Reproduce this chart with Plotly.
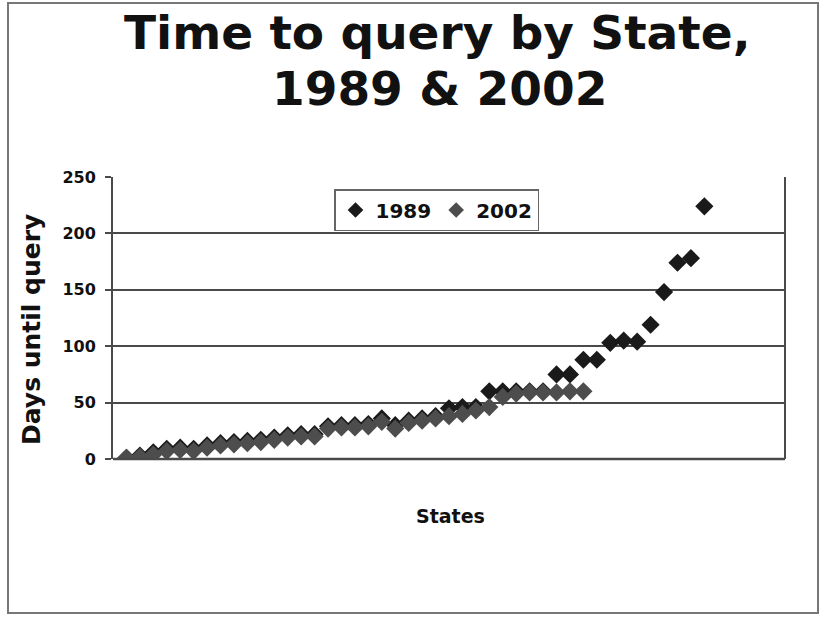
import plotly.graph_objects as go

# State rank (sorted order) for each series
rank_1989 = list(range(1, 45))
rank_2002 = list(range(1, 36))

days_1989 = [1, 3, 6, 9, 10, 9, 12, 14, 15, 16, 17, 19, 21, 22, 22, 29, 30, 30, 31, 36,
             30, 34, 36, 38, 45, 46, 46, 60, 60, 60, 60, 60, 75, 75, 88, 88, 103, 105, 104, 119,
             148, 174, 178, 224]
days_2002 = [1, 2, 4, 7, 8, 7, 10, 12, 13, 14, 15, 17, 19, 20, 20, 27, 28, 28, 29, 33,
             27, 32, 34, 36, 38, 40, 43, 46, 55, 58, 59, 59, 59, 60, 60]

y_ticks = [0, 50, 100, 150, 200, 250]

W, H = 820, 617
L, R, T, B = 113, 35, 177, 158
pw, ph = W - L - R, H - T - B
FONT = "DejaVu Sans, Arial, sans-serif"


def px_x(x):
    return (x - L) / pw


def px_y(y):
    return (H - B - y) / ph


fig = go.Figure()
fig.add_trace(go.Scatter(
    x=rank_1989, y=days_1989, mode="markers", name="<b>1989</b>",
    marker=dict(symbol="diamond", size=14, color="#1a1a1a", line=dict(width=0)),
))
fig.add_trace(go.Scatter(
    x=rank_2002, y=days_2002, mode="markers", name="<b>2002</b>",
    marker=dict(symbol="diamond", size=14, color="#4d4d4d", line=dict(width=0)),
))

fig.update_layout(
    width=W, height=H,
    margin=dict(l=L, r=R, t=T, b=B, autoexpand=False),
    paper_bgcolor="white", plot_bgcolor="white",
    font=dict(family=FONT, color="#111"),
    showlegend=True,
    legend=dict(
        orientation="h", x=px_x(334), y=px_y(189),
        xanchor="left", yanchor="top",
        bgcolor="white", bordercolor="#666", borderwidth=1.5,
        font=dict(size=20, family=FONT, color="#111"),
        itemsizing="constant", itemwidth=30, tracegroupgap=0,
    ),
    xaxis=dict(
        range=[0, 50], showticklabels=False, showgrid=False, zeroline=False,
        ticks="", showline=False, automargin=False,
    ),
    yaxis=dict(
        range=[0, 250], tickvals=y_ticks, ticktext=[f"<b>{v}</b>" for v in y_ticks],
        showgrid=True, gridcolor="#4a4a4a", gridwidth=2, zeroline=False,
        showline=True, linecolor="#4a4a4a", linewidth=2,
        ticks="outside", ticklen=6, tickcolor="#4a4a4a", tickwidth=1.5,
        tickfont=dict(size=16, family=FONT, color="#111"), automargin=False,
        ticklabelstandoff=6,
    ),
    annotations=[
        dict(text="<b>Time to query by State,</b>", xref="paper", yref="paper",
             x=px_x(437), y=px_y(33), xanchor="center", yanchor="middle",
             showarrow=False, font=dict(size=47, family=FONT, color="#111")),
        dict(text="<b>1989 &amp; 2002</b>", xref="paper", yref="paper",
             x=px_x(439), y=px_y(88), xanchor="center", yanchor="middle",
             showarrow=False, font=dict(size=47, family=FONT, color="#111")),
        dict(text="<b>Days until query</b>", xref="paper", yref="paper",
             x=px_x(31), y=px_y(330), xanchor="center", yanchor="middle",
             textangle=-90, showarrow=False,
             font=dict(size=25, family=FONT, color="#111")),
        dict(text="<b>States</b>", xref="paper", yref="paper",
             x=px_x(450), y=px_y(516), xanchor="center", yanchor="middle",
             showarrow=False, font=dict(size=19, family=FONT, color="#111")),
    ],
    shapes=[
        # plot area frame (bottom and right)
        dict(type="line", xref="paper", yref="paper", x0=0, x1=1, y0=0, y1=0,
             line=dict(color="#4a4a4a", width=2.5)),
        dict(type="line", xref="paper", yref="paper", x0=1, x1=1, y0=0, y1=1,
             line=dict(color="#4a4a4a", width=2)),
        # outer chart frame
        dict(type="rect", xref="paper", yref="paper",
             x0=px_x(8), x1=px_x(818), y0=px_y(613), y1=px_y(3),
             line=dict(color="#777", width=2), layer="below"),
    ],
)

fig.write_html(
    "out.html",
    config={"displayModeBar": False},
    post_script="document.body.style.margin='0';document.body.style.overflow='hidden';",
)
